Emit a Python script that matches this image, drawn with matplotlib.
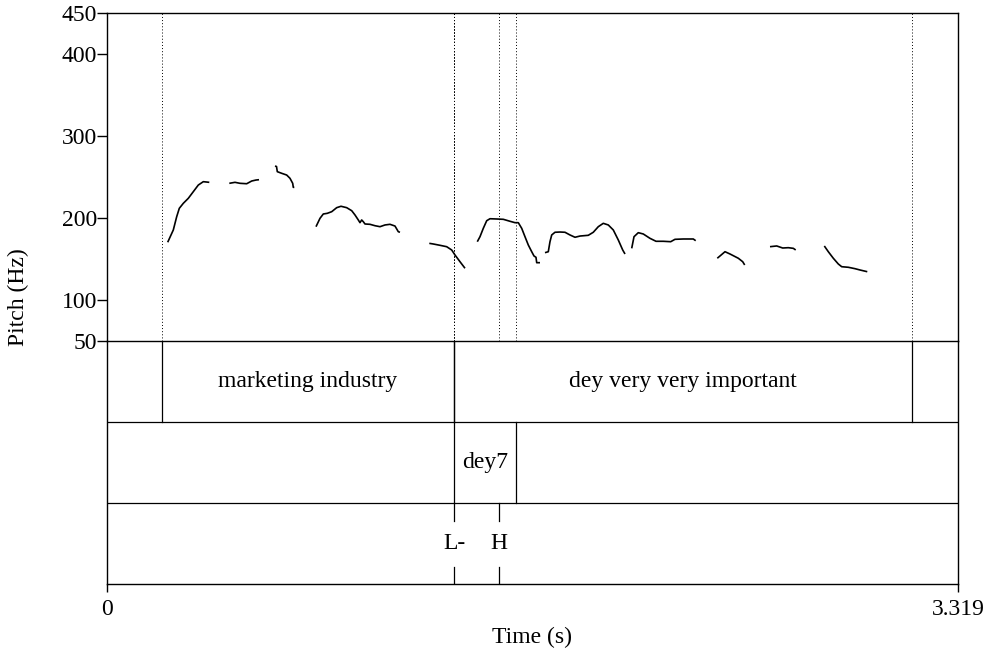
import matplotlib

matplotlib.use("Agg")
import matplotlib.pyplot as plt

plt.rcParams["font.family"] = ["Liberation Serif", "DejaVu Serif"]

T_END = 3.319
FS = 17

# Pitch contour pieces (time in s, F0 in Hz)
seg_times = [
    [0.2367, 0.2586, 0.2718, 0.2820, 0.2976, 0.3171, 0.3366, 0.3561, 0.3756, 0.3990],
    [0.4770, 0.4992, 0.5187, 0.5448, 0.5643, 0.5811, 0.5928],
    [0.6552, 0.6611, 0.6642, 0.6813, 0.7008, 0.7137, 0.7242, 0.7266, 0.7305],
    [0.8151, 0.8307, 0.8436, 0.8592, 0.8764, 0.8958, 0.9126, 0.9348, 0.9544, 0.9672,
     0.9801, 0.9867, 0.9933, 0.9996, 1.0062, 1.0257, 1.0452, 1.0647, 1.0842, 1.1037,
     1.1232, 1.1361, 1.1427],
    [1.2570, 1.2726, 1.2987, 1.3248, 1.3443, 1.3572, 1.3767, 1.3962],
    [1.4442, 1.4547, 1.4676, 1.4809, 1.4937, 1.5199, 1.5456, 1.5717, 1.5912, 1.6041,
     1.6174, 1.6302, 1.6431, 1.6564, 1.6653, 1.6731, 1.6759, 1.6887],
    [1.7082, 1.7211, 1.7277, 1.7344, 1.7472, 1.7667, 1.7862, 1.8057, 1.8253, 1.8448,
     1.8771, 1.8966, 1.9161, 1.9356, 1.9551, 1.9746, 1.9941, 2.0113, 2.0203],
    [2.0464, 2.0554, 2.0721, 2.0916, 2.1177, 2.1412, 2.1696, 2.1985, 2.2152, 2.2476,
     2.2866, 2.2960],
    [2.3802, 2.4103, 2.4298, 2.4622, 2.4793, 2.4871],
    [2.5858, 2.6119, 2.6353, 2.6572, 2.6767, 2.6860],
    [2.7976, 2.8132, 2.8327, 2.8522, 2.8654, 2.8912, 2.9173, 2.9368, 2.9652],
]
seg_f0 = [
    [170.4, 185.4, 201.6, 211.8, 217.9, 224.0, 232.1, 240.2, 244.3, 243.5],
    [242.3, 243.5, 242.3, 241.8, 245.1, 246.3, 246.7],
    [263.4, 262.8, 256.5, 254.5, 252.4, 248.4, 242.3, 237.4, 237.4],
    [189.4, 199.6, 204.9, 205.7, 207.7, 212.6, 214.3, 212.6, 208.9, 203.7,
     197.6, 194.3, 197.6, 195.5, 192.7, 192.3, 190.6, 189.4, 191.5, 192.3,
     190.2, 183.3, 182.6],
    [169.1, 168.3, 166.7, 165.0, 161.0, 154.9, 146.7, 138.7],
    [171.1, 177.2, 187.4, 196.7, 199.1, 198.8, 198.4, 196.0, 194.3, 194.3,
     187.4, 177.2, 167.1, 158.9, 153.7, 152.1, 145.5, 145.5],
    [157.7, 158.9, 171.1, 179.3, 182.6, 182.9, 182.6, 179.3, 176.5, 178.0,
     178.9, 182.6, 189.4, 193.5, 191.5, 185.4, 173.2, 161.0, 156.1],
    [163.0, 177.2, 182.1, 180.5, 175.2, 171.6, 171.6, 171.1, 174.0, 174.4,
     174.4, 172.3],
    [150.9, 158.9, 156.1, 150.9, 146.7, 142.7],
    [165.0, 165.9, 163.4, 163.8, 163.0, 161.0],
    [165.9, 158.9, 150.9, 143.9, 140.6, 139.9, 138.2, 136.6, 134.5],
]

# TextGrid tiers: interval tiers as (start, end, label), point tier as (time, label)
words_tier = [(0.2145, 1.3533, "marketing industry"), (1.3533, 3.1384, "dey very very important")]
focus_tier = [(1.3533, 1.5939, "dey7")]
tone_tier = [(1.3533, "L-"), (1.5301, "H")]

pitch_ticks = [50, 100, 200, 300, 400, 450]

fig = plt.figure(figsize=(9.93, 6.53), dpi=100)
W, H = 993, 653
left, right = 107 / W, 958 / W
ax_t = fig.add_axes([left, 1 - 584 / H, right - left, (584 - 341) / H])
ax_p = fig.add_axes([left, 1 - 341 / H, right - left, (341 - 13) / H])
ax_p.patch.set_visible(False)

# pitch panel
for ts, fs in zip(seg_times, seg_f0):
    ax_p.plot(ts, fs, color="black", lw=1.2, solid_capstyle="butt")

# every tier boundary gets its own dotted line, so shared ones print darker
boundaries = ([b for s, e, _ in words_tier for b in (s, e)]
              + [b for s, e, _ in focus_tier for b in (s, e)]
              + [t for t, _ in tone_tier])
for b in boundaries:
    ax_p.axvline(b, color="black", lw=0.7, ls=(0, (1, 2.2)))

ax_p.set_xlim(0, T_END)
ax_p.set_ylim(50, 450)
ax_p.set_yticks(pitch_ticks)
ax_p.set_yticklabels([str(v) for v in pitch_ticks], fontsize=FS)
ax_p.set_xticks([])
ax_p.tick_params(axis="y", direction="out", length=7, width=1, pad=0)
for sp in ax_p.spines.values():
    sp.set_linewidth(1.0)

# tier panel (rows 0..3 top to bottom)
ax_t.set_xlim(0, T_END)
ax_t.set_ylim(3, 0)
ax_t.spines["top"].set_visible(False)
for sp in ("left", "right", "bottom"):
    ax_t.spines[sp].set_linewidth(1.0)
ax_t.set_yticks([])
ax_t.axhline(1, color="black", lw=0.9)
ax_t.axhline(2, color="black", lw=0.9)

for s, e, lab in words_tier:
    for b in (s, e):
        ax_t.plot([b, b], [0, 1], color="black", lw=0.9)
    ax_t.text((s + e) / 2, 0.5, lab, ha="center", va="center", fontsize=FS)
for s, e, lab in focus_tier:
    for b in (s, e):
        ax_t.plot([b, b], [1, 2], color="black", lw=0.9)
    ax_t.text((s + e) / 2, 1.5, lab, ha="center", va="center", fontsize=FS)
for t, lab in tone_tier:
    ax_t.plot([t, t], [2, 2.22], color="black", lw=0.9)
    ax_t.plot([t, t], [2.79, 3], color="black", lw=0.9)
    ax_t.text(t, 2.5, lab, ha="center", va="center", fontsize=FS)

ax_t.set_xticks([0, T_END])
ax_t.set_xticklabels(["0", "3.319"], fontsize=FS)
ax_t.tick_params(axis="x", direction="out", length=6, width=1, pad=5)

fig.text(18 / W, 1 - 297 / H, "Pitch (Hz)", rotation=90, ha="center", va="center", fontsize=FS)
fig.text((left + right) / 2, 1 - 637 / H, "Time (s)", ha="center", va="center", fontsize=FS)

fig.savefig("out.png", dpi=100)
